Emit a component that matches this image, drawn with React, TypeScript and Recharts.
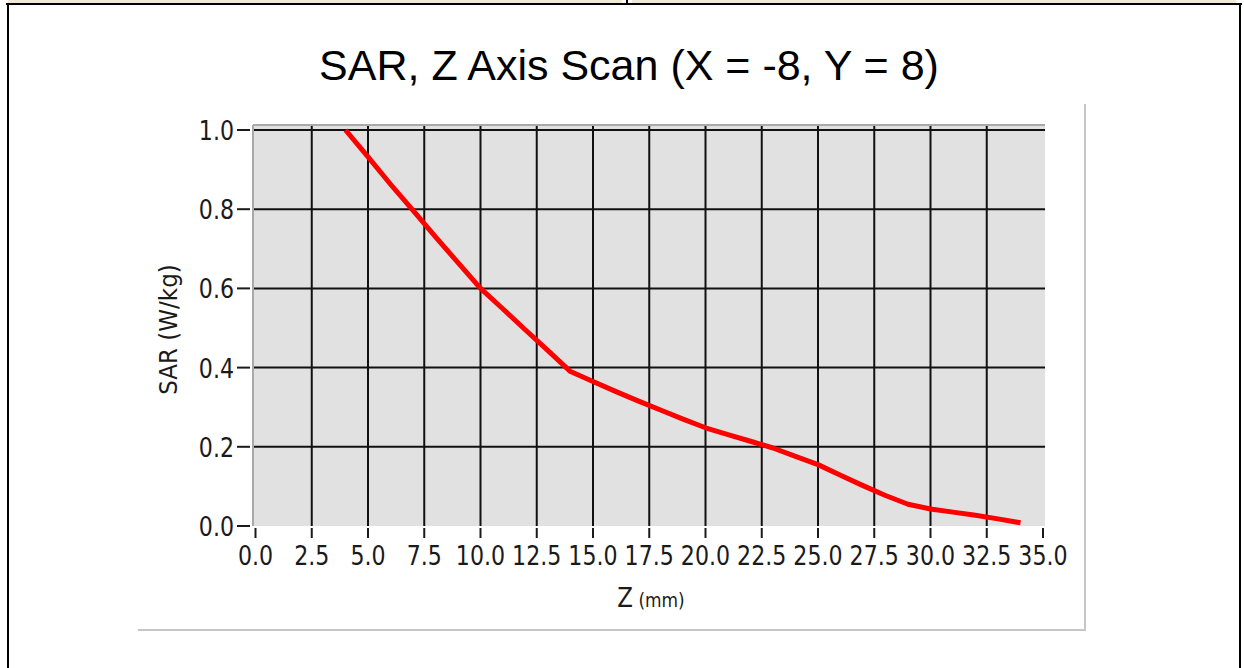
import { LineChart, Line, XAxis, YAxis, CartesianGrid, ReferenceLine, Label } from 'recharts'

// z positions (mm) and SAR readings (W/kg)
const zValues = [4, 5, 6, 7, 8, 9, 10, 11, 12, 13, 14, 15, 16, 17, 18, 19, 20, 21, 22, 23, 24, 25, 26, 27, 28, 29, 30, 31, 32, 33, 34]
const sarValues = [
  1.0, 0.932, 0.863, 0.797, 0.73, 0.665, 0.6, 0.548, 0.495, 0.443, 0.39,
  0.365, 0.34, 0.316, 0.293, 0.27, 0.248, 0.231, 0.214, 0.197, 0.176, 0.155,
  0.128, 0.102, 0.077, 0.055, 0.043, 0.035, 0.027, 0.018, 0.008,
]

const xTicks = [0, 2.5, 5, 7.5, 10, 12.5, 15, 17.5, 20, 22.5, 25, 27.5, 30, 32.5, 35]
const yTicks = [0, 0.2, 0.4, 0.6, 0.8, 1.0]
const xGrid = [2.5, 5, 7.5, 10, 12.5, 15, 17.5, 20, 22.5, 25, 27.5, 30, 32.5]
const yGrid = [0.2, 0.4, 0.6, 0.8, 1.0]

const chartTitle = 'SAR, Z Axis Scan (X = -8, Y = 8)'
const yTitle = 'SAR (W/kg)'
const xTitle = 'Z'
const xUnit = ' (mm)'

const data = zValues.map((z, i) => ({ z, sar: sarValues[i] }))

const narrow = "'DejaVu Sans', sans-serif"
const ink = '#1a1a1a'

function XTick({ x, y, payload }: any) {
  return (
    <g>
      <line x1={x} x2={x} y1={y + 2} y2={y + 12} stroke={ink} strokeWidth={2} />
      <text
        transform={`translate(${x}, ${y + 39}) scale(0.82, 1)`}
        textAnchor="middle"
        fontSize={27}
        fontFamily={narrow}
        fill={ink}
      >
        {Number(payload.value).toFixed(1)}
      </text>
    </g>
  )
}

function YTick({ x, y, payload }: any) {
  return (
    <g>
      <line x1={x - 16} x2={x - 3} y1={y} y2={y} stroke={ink} strokeWidth={2} />
      <text
        transform={`translate(${x - 19}, ${y + 10}) scale(0.82, 1)`}
        textAnchor="end"
        fontSize={27}
        fontFamily={narrow}
        fill={ink}
      >
        {Number(payload.value).toFixed(1)}
      </text>
    </g>
  )
}

const line = (style: React.CSSProperties) => <div style={{ position: 'absolute', ...style }} />

export default function App() {
  return (
    <div style={{ position: 'absolute', left: 0, top: 0, width: 1244, height: 668, background: '#fff' }}>
      {line({ left: 8, top: 0, width: 614, height: 3, background: '#efe9d6' })}
      {line({ left: 632, top: 0, width: 604, height: 3, background: '#efe9d6' })}
      {line({ left: 6, top: 3, width: 1236, height: 2, background: '#000' })}
      {line({ left: 626, top: 0, width: 2, height: 4, background: '#000' })}
      {line({ left: 7, top: 3, width: 2, height: 665, background: '#000' })}
      {line({ left: 1239, top: 3, width: 2, height: 665, background: '#000' })}
      {line({ left: 1084, top: 104, width: 2, height: 527, background: '#c6c6c6' })}
      {line({ left: 138, top: 629, width: 948, height: 2, background: '#c6c6c6' })}
      <div style={{ position: 'absolute', left: 0, top: 0 }}>
        <LineChart width={1244} height={668} data={data} margin={{ top: 124, right: 199, bottom: 82, left: 193 }}>
          <CartesianGrid fill="#e1e1e1" horizontal={false} vertical={false} />
          <XAxis
            xAxisId="top"
            orientation="top"
            dataKey="z"
            type="number"
            domain={[0, 35]}
            height={1}
            tick={false}
            tickLine={false}
            axisLine={{ stroke: '#a9a9a9', strokeWidth: 2 }}
          >
            <Label
              content={({ viewBox }: any) => (
                <text
                  x={viewBox.x + viewBox.width / 2 - 20}
                  y={viewBox.y - 44}
                  textAnchor="middle"
                  fontSize={43}
                  fontFamily="'Liberation Sans', Arial, sans-serif"
                  fill="#000"
                >
                  {chartTitle}
                </text>
              )}
            />
          </XAxis>
          <XAxis
            dataKey="z"
            type="number"
            domain={[0, 35]}
            ticks={xTicks}
            interval={0}
            padding={{ left: 2.5, right: 2 }}
            height={60}
            tickSize={0}
            tickMargin={0}
            tickLine={false}
            axisLine={false}
            tick={<XTick />}
          >
            <Label
              content={({ viewBox }: any) => (
                <text
                  transform={`translate(${viewBox.x + viewBox.width / 2 + 2}, ${viewBox.y + 81}) scale(0.85, 1)`}
                  textAnchor="middle"
                  fontFamily={narrow}
                  fill={ink}
                >
                  <tspan fontSize={27}>{xTitle}</tspan>
                  <tspan fontSize={20}>{xUnit}</tspan>
                </text>
              )}
            />
          </XAxis>
          <YAxis
            type="number"
            domain={[0, 1]}
            ticks={yTicks}
            interval={0}
            padding={{ top: 5, bottom: 0 }}
            width={60}
            tickSize={0}
            tickMargin={0}
            tickLine={false}
            axisLine={{ stroke: '#a9a9a9', strokeWidth: 2 }}
            tick={<YTick />}
          >
            <Label
              content={({ viewBox }: any) => {
                const cx = viewBox.x - 25
                const cy = viewBox.y + viewBox.height / 2 + 4
                return (
                  <text
                    x={0}
                    y={0}
                    dy={9}
                    transform={`translate(${cx}, ${cy}) rotate(-90) scale(0.92, 1)`}
                    textAnchor="middle"
                    fontSize={25}
                    fontFamily={narrow}
                    fill={ink}
                  >
                    {yTitle}
                  </text>
                )
              }}
            />
          </YAxis>
          {xGrid.map((v) => (
            <ReferenceLine key={'gx' + v} x={v} stroke="#111" strokeWidth={2} />
          ))}
          {yGrid.map((v) => (
            <ReferenceLine key={'gy' + v} y={v} stroke="#111" strokeWidth={2} />
          ))}
          <Line
            type="linear"
            dataKey="sar"
            stroke="#ff0000"
            strokeWidth={5}
            strokeLinejoin="round"
            dot={false}
            activeDot={false}
            isAnimationActive={false}
          />
        </LineChart>
      </div>
    </div>
  )
}
